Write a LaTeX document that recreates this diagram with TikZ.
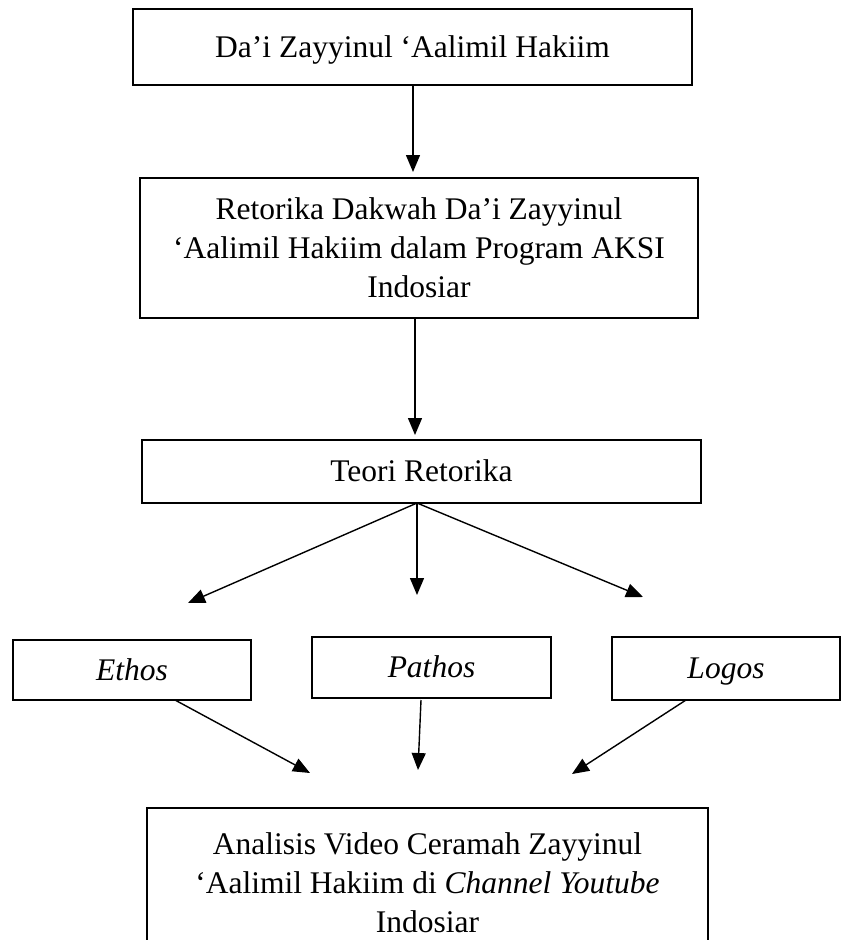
\documentclass[tikz,border=0pt]{standalone}
\usepackage{fontspec}
\setmainfont{Liberation Serif}
\usetikzlibrary{arrows.meta}
\begin{document}
\begin{tikzpicture}[x=1pt,y=-1pt,
  box/.style={draw, line width=1.6pt, inner sep=0pt, align=center,
    font=\fontsize{31.5}{39}\selectfont},
  oneline/.style={text height=20pt, text depth=0pt},
  arr/.style={line width=1.4pt, -{Triangle[length=17pt,width=14pt]}}]
\useasboundingbox (0,0) rectangle (842,940);
\clip (0,0) rectangle (842,940);
\node[box, oneline, minimum width=559pt, minimum height=76pt] (b1) at (412.5,47) {Da’i Zayyinul ‘Aalimil Hakiim};
\node[box, minimum width=558pt, minimum height=140pt] (b2) at (419,248)
  {Retorika Dakwah Da’i Zayyinul\\‘Aalimil Hakiim dalam Program AKSI\\Indosiar};
\node[box, oneline, minimum width=559pt, minimum height=63pt] (teori) at (421.5,471.5) {Teori Retorika};
\node[box, oneline, minimum width=238pt, minimum height=60pt] (ethos) at (132,670) {\textit{Ethos}};
\node[box, oneline, minimum width=239pt, minimum height=61pt] (pathos) at (431.5,667.5) {\textit{Pathos}};
\node[box, oneline, minimum width=228pt, minimum height=63pt] (logos) at (726,668.5) {\textit{Logos}};
\node[box, minimum width=561pt, minimum height=150pt] (hasil) at (427.5,883)
  {Analisis Video Ceramah Zayyinul\\‘Aalimil Hakiim di \textit{Channel Youtube}\\Indosiar};
% connector ends
\coordinate (a1s) at (413,85);
\coordinate (a1e) at (413,172);
\coordinate (a2s) at (415,318);
\coordinate (a2e) at (415,435);
\coordinate (tb) at (417,503);
\coordinate (te) at (188,603);
\coordinate (tp) at (417,595);
\coordinate (tl) at (643,597);
\coordinate (es) at (175,700);
\coordinate (ee) at (310,773);
\coordinate (ps) at (421,700);
\coordinate (pe) at (418,770);
\coordinate (ls) at (686,700);
\coordinate (le) at (572,774);
\draw[arr] (a1s) -- (a1e);
\draw[arr] (a2s) -- (a2e);
\draw[arr] (tb) -- (te);
\draw[arr] (tb) -- (tp);
\draw[arr] (tb) -- (tl);
\draw[arr] (es) -- (ee);
\draw[arr] (ps) -- (pe);
\draw[arr] (ls) -- (le);
\end{tikzpicture}
\end{document}
